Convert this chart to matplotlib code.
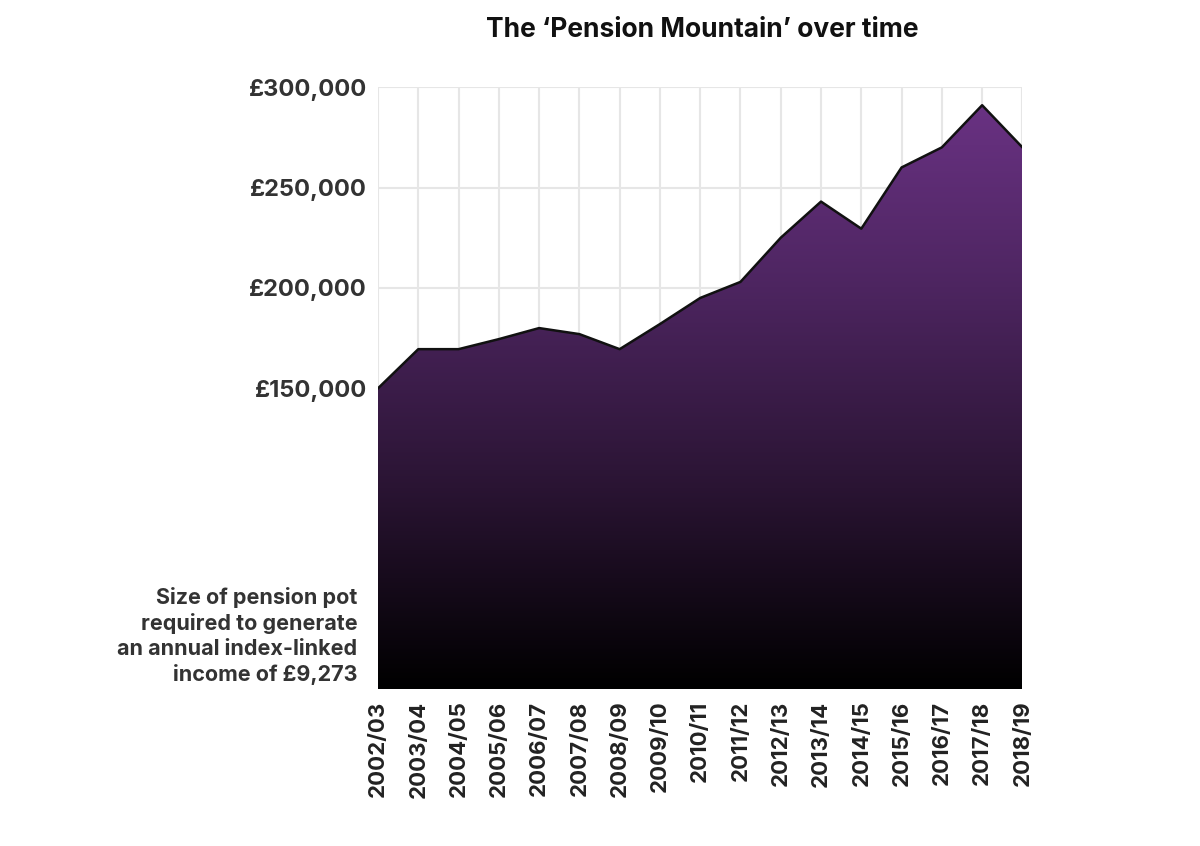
import matplotlib
matplotlib.use("Agg")
import matplotlib.pyplot as plt
import numpy as np
from matplotlib.colors import LinearSegmentedColormap

years = ["2002/03","2003/04","2004/05","2005/06","2006/07","2007/08","2008/09","2009/10",
         "2010/11","2011/12","2012/13","2013/14","2014/15","2015/16","2016/17","2017/18","2018/19"]
values = [150000,169500,169500,174500,180000,177000,169500,182000,195000,203000,
          225000,243000,229500,260000,270000,291000,270000]
yticks = [150000,200000,250000,300000]
ylabels = ["£150,000","£200,000","£250,000","£300,000"]

plt.rcParams["font.family"] = "Inter"
fig = plt.figure(figsize=(12,8.46), dpi=100)
ax = fig.add_axes([0.315, 0.185, 0.537, 0.712])
x = np.arange(len(years))
ax.set_xlim(0, len(years)-1)
ax.set_ylim(0, 300000)

for xi in x:
    ax.axvline(xi, color="#e6e6e6", lw=1.5, zorder=0)
for yt in yticks:
    ax.axhline(yt, color="#e6e6e6", lw=1.5, zorder=0)

cmap = LinearSegmentedColormap.from_list("g", ["#000000", "#2a1433", "#4d2560", "#6c3386"])
grad = np.linspace(0, 1, 256).reshape(-1, 1)
poly = ax.fill_between(x, values, 0, color="none")
im = ax.imshow(grad, aspect="auto", cmap=cmap, origin="lower",
               extent=[0, len(years)-1, 0, 300000], zorder=1)
verts = np.vstack([[0, 0], np.column_stack([x, values]), [len(years)-1, 0]])
from matplotlib.patches import Polygon
clip = Polygon(verts, closed=True, transform=ax.transData, facecolor="none", edgecolor="none")
ax.add_patch(clip)
im.set_clip_path(clip)
ax.plot(x, values, color="#111111", lw=1.8, zorder=3)

ax.set_yticks(yticks)
ax.set_yticklabels(ylabels, fontsize=17, fontweight="bold", color="#333333")
ax.set_xticks(x)
ax.set_xticklabels(years, rotation=90, fontsize=16, fontweight="bold", color="#222222")
ax.tick_params(length=0, pad=8)
for s in ax.spines.values():
    s.set_visible(False)

fig.text(0.585, 0.965, "The \u2018Pension Mountain\u2019 over time", ha="center", va="center",
         fontsize=19, fontweight="bold", color="#111111")
fig.text(0.298, 0.19, "Size of pension pot\nrequired to generate\nan annual index-linked\nincome of £9,273",
         ha="right", va="bottom", fontsize=15.5, fontweight="bold", color="#333333", linespacing=1.3)

fig.savefig("out.png", dpi=100)
